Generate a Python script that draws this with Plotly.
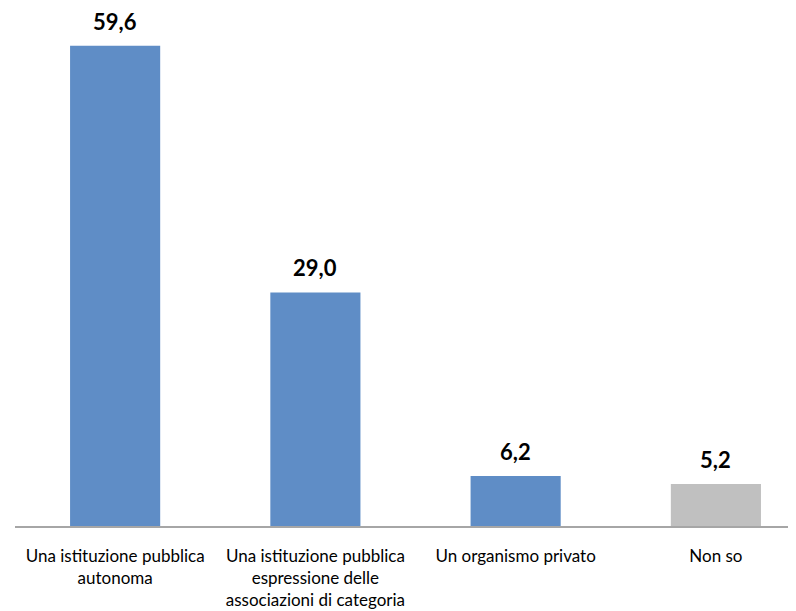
import plotly.graph_objects as go

categories = ["Una istituzione pubblica<br>autonoma",
              "Una istituzione pubblica<br>espressione delle<br>associazioni di categoria",
              "Un organismo privato",
              "Non so"]
values = [59.6, 29.0, 6.2, 5.2]
colors = ["#5F8DC6", "#5F8DC6", "#5F8DC6", "#C0C0C0"]

fig = go.Figure()
fig.add_trace(go.Bar(x=list(range(len(categories))), y=values,
                     marker=dict(color=colors, line=dict(width=0)),
                     width=0.45, hoverinfo="skip"))

for i, v in enumerate(values):
    fig.add_annotation(x=i, y=v, text="<b>" + f"{v:.1f}".replace(".", ",") + "</b>",
                       showarrow=False, yanchor="bottom", yshift=9,
                       font=dict(family="Lato, Open Sans, sans-serif", size=22, color="#000000"))

fig.update_layout(
    width=788, height=603,
    margin=dict(l=7, r=0, t=0, b=85),
    paper_bgcolor="white", plot_bgcolor="white",
    showlegend=False,
    font=dict(family="Lato, Open Sans, sans-serif", size=17, color="#000000"),
)
fig.update_xaxes(tickmode="array", tickvals=list(range(len(categories))), ticktext=categories,
                 range=[-0.5, 3.4], showline=True, linecolor="#A6A6A6", linewidth=1.5,
                 ticks="", showgrid=False, zeroline=False, ticklabelstandoff=14,
                 tickfont=dict(size=17))
fig.update_yaxes(range=[0, 64.3], visible=False, showgrid=False, zeroline=False)

fig.write_html("out.html")
